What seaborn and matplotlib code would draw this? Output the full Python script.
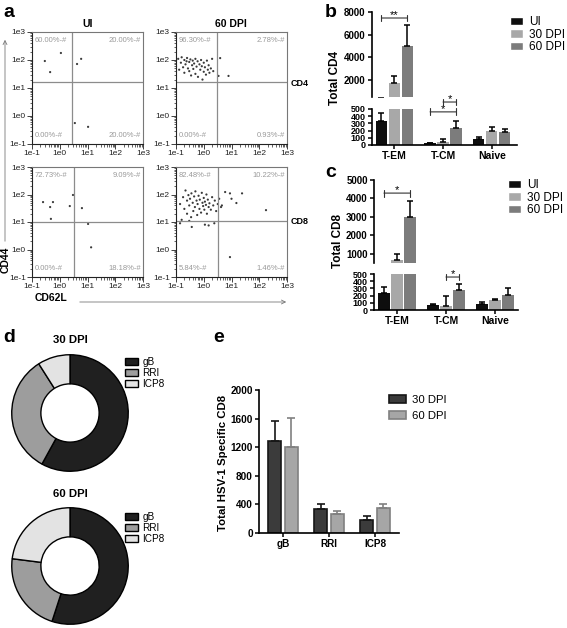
import pandas as pd
import matplotlib
matplotlib.use("Agg")
import matplotlib.pyplot as plt
from matplotlib.patches import Patch, FancyArrowPatch
from matplotlib.ticker import NullFormatter
import seaborn as sns

# ---- panel a: flow plots, CD62L (x) vs CD44 (y) ----
ui_cd4_x = [0.1, 0.29, 1.1, 0.45, 4.2, 5.9, 3.5, 10.5]
ui_cd4_y = [92, 92, 178, 37, 72, 110, 0.56, 0.41]
dpi60_cd4_x = [0.1, 0.1, 0.12, 0.13, 0.15, 0.16, 0.18, 0.2, 0.2, 0.22,
               0.24, 0.25, 0.27, 0.3, 0.3, 0.33, 0.35, 0.38, 0.4, 0.42,
               0.45, 0.5, 0.5, 0.55, 0.6, 0.62, 0.7, 0.75, 0.8, 0.85,
               0.9, 1.0, 1.0, 1.1, 1.2, 1.3, 1.4, 1.5, 1.6, 1.8,
               2.0, 2.2, 3.9, 3.4, 7.8]
dpi60_cd4_y = [60, 95, 110, 45, 80, 125, 55, 100, 35, 70,
               90, 118, 50, 40, 85, 105, 28, 65, 95, 48,
               75, 110, 32, 58, 90, 25, 70, 45, 100, 60,
               20, 38, 80, 55, 30, 95, 45, 65, 35, 50,
               110, 40, 117, 27, 27]
ui_cd8_x = [0.1, 0.25, 0.45, 0.57, 2.3, 3.0, 6.3, 0.48, 10.5, 13.5]
ui_cd8_y = [50, 53, 35, 53, 38, 96, 32, 13, 8.5, 1.2]
dpi60_cd8_x = [0.14, 0.16, 0.18, 0.2, 0.22, 0.25, 0.25, 0.28, 0.3, 0.32,
               0.35, 0.36, 0.4, 0.42, 0.45, 0.48, 0.5, 0.55, 0.58, 0.6,
               0.65, 0.7, 0.72, 0.8, 0.85, 0.9, 0.95, 1.0, 1.05, 1.1,
               1.2, 1.25, 1.3, 1.4, 1.5, 1.6, 1.8, 2.0, 2.2, 2.5,
               2.8, 3.2, 3.6, 4.2, 0.14, 0.37, 1.1, 1.5, 0.3, 2.4,
               5.9, 8.8, 15, 24, 10, 175, 8.8, 4.5]
dpi60_cd8_y = [45, 12, 80, 30, 140, 60, 20, 95, 40, 70,
               15, 110, 50, 25, 85, 35, 130, 60, 18, 45,
               90, 30, 65, 22, 115, 50, 38, 75, 28, 55,
               42, 100, 20, 65, 35, 48, 28, 80, 40, 60,
               25, 45, 70, 35, 9, 6.6, 8, 7.5, 11, 9,
               123, 110, 49, 110, 70, 27, 0.53, 40]
ui_cd4_pct = ["60.00%-#", "20.00%-#", "0.00%-#", "20.00%-#"]
dpi60_cd4_pct = ["96.30%-#", "2.78%-#", "0.00%-#", "0.93%-#"]
ui_cd8_pct = ["72.73%-#", "9.09%-#", "0.00%-#", "18.18%-#"]
dpi60_cd8_pct = ["82.48%-#", "10.22%-#", "5.84%-#", "1.46%-#"]
flow_ticks = [0.1, 1, 10, 100, 1000]
flow_labels = ["1e-1", "1e0", "1e1", "1e2", "1e3"]

# ---- panels b, c: total CD4 / CD8 (mean, SD) ----
subsets = ["T-EM", "T-CM", "Naive"]
conds = ["UI", "30 DPI", "60 DPI"]
cd4_ui = [330, 25, 80]
cd4_ui_sd = [110, 8, 30]
cd4_30 = [1750, 45, 190]
cd4_30_sd = [600, 38, 55]
cd4_60 = [5000, 235, 175]
cd4_60_sd = [1850, 100, 50]
cd8_ui = [230, 65, 85]
cd8_ui_sd = [90, 25, 20]
cd8_30 = [650, 50, 135]
cd8_30_sd = [350, 140, 15]
cd8_60 = [3000, 275, 210]
cd8_60_sd = [850, 85, 90]

# ---- panel d: share of HSV-1 specific CD8 (%) ----
antigens = ["gB", "RRI", "ICP8"]
share_30 = [58, 33, 9]
share_60 = [55, 22, 23]

# ---- panel e: total HSV-1 specific CD8 (mean, SD) ----
e_levels = ["30 DPI", "60 DPI"]
hsv_30 = [1290, 335, 175]
hsv_30_sd = [280, 75, 58]
hsv_60 = [1200, 270, 350]
hsv_60_sd = [405, 32, 50]

sns.set_style("ticks", {"axes.edgecolor": "black", "xtick.color": "black",
                        "ytick.color": "black", "text.color": "black"})
plt.rcParams["font.family"] = ["Liberation Sans", "DejaVu Sans"]

W, H = 567, 628
fig = plt.figure(figsize=(W / 100, H / 100), dpi=100)


def rect(l, t, r, b):
    return [l / W, 1 - b / H, (r - l) / W, (b - t) / H]


def fig_xy(x, y):
    return (x / W, 1 - y / H)


def fig_text(x, y, s, **kw):
    fig.text(x / W, 1 - y / H, s, **kw)


def flow_panel(box, xs, ys, gate, pct):
    ax = fig.add_axes(rect(*box))
    df = pd.DataFrame({"CD62L": xs, "CD44": ys})
    sns.scatterplot(data=df, x="CD62L", y="CD44", ax=ax, s=2.5, color="#3a3a3a",
                    edgecolor="none", linewidth=0)
    ax.set(xscale="log", yscale="log", xlim=(0.1, 1000), ylim=(0.1, 1000),
           xlabel="", ylabel="")
    ax.axvline(gate[0], color="#8c8c8c", lw=0.9)
    ax.axhline(gate[1], color="#8c8c8c", lw=0.9)
    ax.set_xticks(flow_ticks, flow_labels)
    ax.set_yticks(flow_ticks, flow_labels)
    ax.xaxis.set_minor_formatter(NullFormatter())
    ax.yaxis.set_minor_formatter(NullFormatter())
    ax.tick_params(which="major", length=3.5, width=0.6, labelsize=6, pad=1, colors="#222")
    ax.tick_params(which="minor", length=1.8, width=0.5, colors="#222")
    for s in ax.spines.values():
        s.set_color("#777777")
        s.set_linewidth(0.8)
    ax.spines["left"].set_color("#222")
    ax.spines["bottom"].set_color("#222")
    kw = dict(transform=ax.transAxes, fontsize=5.5, color="#9a9a9a", va="center")
    ax.text(0.025, 0.92, pct[0], ha="left", **kw)
    ax.text(0.98, 0.92, pct[1], ha="right", **kw)
    ax.text(0.025, 0.08, pct[2], ha="left", **kw)
    ax.text(0.98, 0.08, pct[3], ha="right", **kw)
    return ax


flow_panel((32, 32, 143, 144), ui_cd4_x, ui_cd4_y, (2.75, 16), ui_cd4_pct)
flow_panel((176, 32, 287, 144), dpi60_cd4_x, dpi60_cd4_y, (3.0, 16), dpi60_cd4_pct)
flow_panel((32, 167, 143, 277), ui_cd8_x, ui_cd8_y, (3.2, 10), ui_cd8_pct)
flow_panel((176, 167, 287, 277), dpi60_cd8_x, dpi60_cd8_y, (3.2, 11), dpi60_cd8_pct)

bold = dict(fontweight="bold")
fig_text(87.5, 24, "UI", ha="center", va="center", fontsize=7.5, **bold)
fig_text(231, 24, "60 DPI", ha="center", va="center", fontsize=7.5, **bold)
fig_text(291, 83, "CD4", ha="left", va="center", fontsize=6.5, **bold)
fig_text(291, 222, "CD8", ha="left", va="center", fontsize=6.5, **bold)
fig_text(6, 260, "CD44", ha="center", va="center", rotation=90, fontsize=7.5, **bold)
fig_text(35, 298, "CD62L", ha="left", va="center", fontsize=7.5, **bold)
fig.add_artist(FancyArrowPatch(fig_xy(5, 244), fig_xy(5, 37), transform=fig.transFigure,
                               arrowstyle="->", mutation_scale=7, lw=0.6, color="#777"))
fig.add_artist(FancyArrowPatch(fig_xy(77, 302), fig_xy(289, 302), transform=fig.transFigure,
                               arrowstyle="->", mutation_scale=7, lw=0.6, color="#777"))

# ---- bar helpers ----
bc_palette = {"UI": "#0e0e0e", "30 DPI": "#a8a8a8", "60 DPI": "#7c7c7c"}


def long_frame(cats, levels, values):
    rows = []
    for lev, vals in zip(levels, values):
        for c, v in zip(cats, vals):
            rows.append({"cat": c, "level": lev, "value": v})
    return pd.DataFrame(rows)


def add_errorbars(ax, sds, colors, lw=1.1, cap=2.5):
    for cont, sd, col in zip(ax.containers, sds, colors):
        for bar in cont:
            cx = bar.get_x() + bar.get_width() / 2
            i = int(round(cx))
            ax.errorbar(cx, bar.get_height(), yerr=[[0], [sd[i]]], color=col,
                        lw=lw, capsize=cap, capthick=lw)


def style_ticks(ax, size=7):
    ax.tick_params(length=3, width=1.1, labelsize=size, pad=1.5)
    for s in ax.spines.values():
        s.set_linewidth(1.2)
    plt.setp(ax.get_yticklabels(), fontweight="bold")
    plt.setp(ax.get_xticklabels(), fontweight="bold")


def bracket(ax, x1, x2, y, text):
    ax.annotate("", xy=(x1, y), xytext=(x2, y), annotation_clip=False,
                arrowprops=dict(arrowstyle="|-|,widthA=0.25,widthB=0.25", lw=0.8,
                                color="#333", shrinkA=0, shrinkB=0))
    ax.annotate(text, xy=((x1 + x2) / 2, y), xytext=(0, -1.5), textcoords="offset points",
                ha="center", va="bottom", fontsize=8, annotation_clip=False)


def broken_panel(top_box, bot_box, values, sds, top_lim, top_ticks, xlim):
    df = long_frame(subsets, conds, values)
    axes = []
    for box, lim in ((top_box, top_lim), (bot_box, (0, 500))):
        ax = fig.add_axes(rect(*box))
        sns.barplot(data=df, x="cat", y="value", hue="level", order=subsets,
                    hue_order=conds, palette=bc_palette, errorbar=None, width=0.8,
                    gap=0.12, linewidth=0, legend=False, ax=ax)
        add_errorbars(ax, sds, ["black"] * 3)
        ax.set_ylim(*lim)
        ax.set_xlim(*xlim)
        ax.set_xlabel("")
        ax.set_ylabel("")
        axes.append(ax)
    top, bot = axes
    sns.despine(ax=top, bottom=True)
    top.set_xticks([])
    top.set_yticks(top_ticks)
    sns.despine(ax=bot)
    bot.set_yticks(range(0, 501, 100))
    style_ticks(top)
    style_ticks(bot, size=6.5)
    bot.tick_params(axis="x", labelsize=7.5)
    return top, bot


def legend_at(x, y, handles, labels, size, hl, hh, ls):
    fig.legend(handles, labels, loc="upper left", bbox_to_anchor=fig_xy(x, y),
               frameon=False, fontsize=size, handlelength=hl, handleheight=hh,
               handletextpad=0.5, labelspacing=ls, borderpad=0, borderaxespad=0)


off = 0.8 / 3
# panel b
b_top, b_bot = broken_panel((372, 12, 517, 97), (372, 109, 517, 145),
                            [cd4_ui, cd4_30, cd4_60], [cd4_ui_sd, cd4_30_sd, cd4_60_sd],
                            (500, 8000), [2000, 4000, 6000, 8000], (-0.46, 2.52))
bracket(b_top, -off, off, 7470, "**")
bracket(b_bot, 1.0, 1.0 + off, 597, "*")
bracket(b_bot, 1.0 - off, 1.0 + off, 460, "*")
fig_text(335, 78, "Total CD4", rotation=90, ha="center", va="center", fontsize=8.5, **bold)
legend_at(510, 16, [Patch(facecolor=bc_palette[c]) for c in conds], conds, 8.5, 1.1, 0.7, 0.05)

# panel c
c_top, c_bot = broken_panel((374, 180, 518, 263), (374, 274, 518, 310),
                            [cd8_ui, cd8_30, cd8_60], [cd8_ui_sd, cd8_30_sd, cd8_60_sd],
                            (500, 5000), [1000, 2000, 3000, 4000, 5000], (-0.47, 2.47))
bracket(c_top, -off, off, 4290, "*")
bracket(c_bot, 1.0, 1.0 + off, 458, "*")
fig_text(338, 241, "Total CD8", rotation=90, ha="center", va="center", fontsize=8.5, **bold)
legend_at(508, 179, [Patch(facecolor=bc_palette[c]) for c in conds], conds, 8.5, 1.1, 0.7, 0.05)

# ---- panel d: donuts ----
d_fill = ["#202020", "#9d9d9d", "#e3e3e3"]
for top, title_y, title, shares, leg_y in [(353, 340, "30 DPI", share_30, 357),
                                           (506, 494, "60 DPI", share_60, 512)]:
    ax = fig.add_axes(rect(10, top, 130, top + 120))
    ax.pie(shares, colors=d_fill, startangle=90, counterclock=False, radius=1,
           wedgeprops=dict(width=0.5, edgecolor="black", linewidth=1.0))
    ax.set(xlim=(-1.03, 1.03), ylim=(-1.03, 1.03), aspect="equal")
    fig_text(70, title_y, title, ha="center", va="center", fontsize=8.2, **bold)
    legend_at(125, leg_y, [Patch(facecolor=c, edgecolor="black", lw=1.0) for c in d_fill],
              antigens, 7.2, 1.25, 0.6, 0.1)

# ---- panel e ----
e_fill = {"30 DPI": "#3b3b3b", "60 DPI": "#a6a6a6"}
e_edge = {"30 DPI": "#161616", "60 DPI": "#808080"}
e_df = long_frame(antigens, e_levels, [hsv_30, hsv_60])
ax_e = fig.add_axes(rect(259, 390, 399, 533))
sns.barplot(data=e_df, x="cat", y="value", hue="level", order=antigens, hue_order=e_levels,
            palette=e_fill, errorbar=None, width=0.72, gap=0.22, linewidth=1.2,
            legend=False, ax=ax_e)
for cont, lev in zip(ax_e.containers, e_levels):
    for bar in cont:
        bar.set_edgecolor(e_edge[lev])
add_errorbars(ax_e, [hsv_30_sd, hsv_60_sd], [e_edge[l] for l in e_levels], lw=1.2, cap=3)
ax_e.set(ylim=(0, 2000), xlim=(-0.52, 2.52), xlabel="", ylabel="")
ax_e.set_yticks(range(0, 2001, 400))
sns.despine(ax=ax_e)
style_ticks(ax_e, size=7.2)
fig_text(223, 463, "Total HSV-1 Specific CD8", rotation=90, ha="center", va="center",
         fontsize=8.2, **bold)
legend_at(389, 395, [Patch(facecolor=e_fill[l], edgecolor=e_edge[l], lw=1.2) for l in e_levels],
          e_levels, 8.2, 1.5, 0.7, 0.5)

# panel letters
for x, y, s in [(3, 17, "a"), (325, 17, "b"), (325, 177, "c"), (3, 342, "d"), (213, 342, "e")]:
    fig_text(x, y, s, fontsize=14, fontweight="bold", va="baseline")

fig.savefig("out.png", dpi=100)
